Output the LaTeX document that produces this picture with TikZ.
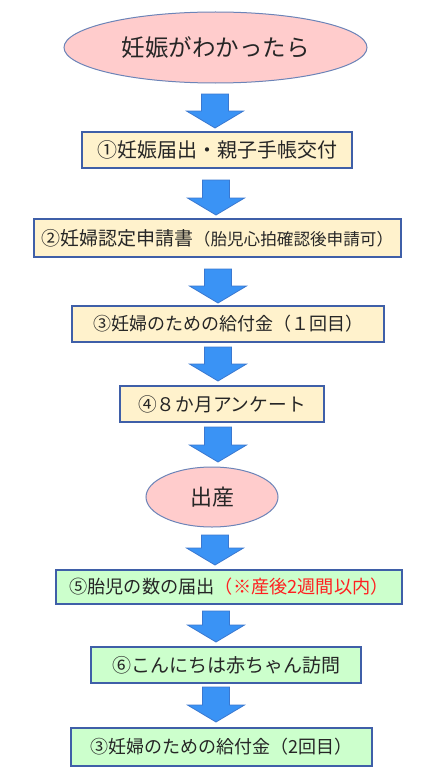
\documentclass[tikz,border=0pt]{standalone}
\usepackage{fontspec}
\setmainfont{Noto Sans CJK JP}
\usetikzlibrary{shapes.geometric}
\definecolor{pinkfill}{HTML}{FFCCCC}
\definecolor{ellline}{HTML}{6C84B8}
\definecolor{creamfill}{HTML}{FFF2CC}
\definecolor{greenfill}{HTML}{CCFFCC}
\definecolor{boxline}{HTML}{3F5FA8}
\definecolor{arrowfill}{HTML}{3A93F5}
\definecolor{arrowline}{HTML}{3A78D0}
\definecolor{txt}{HTML}{262626}
\definecolor{redtxt}{HTML}{FF2020}
\newcommand{\fs}[1]{\fontsize{#1}{#1}\selectfont}
\newcommand{\blockarrow}[3]{%
  \fill[arrowfill, draw=arrowline, line width=0.8pt, line join=miter]
    (#1-13.5,#2) -- (#1+13.5,#2) -- (#1+13.5,#3-17) -- (#1+28.5,#3-17)
    -- (#1,#3) -- (#1-28.5,#3-17) -- (#1-13.5,#3-17) -- cycle;}
\tikzset{
  oval/.style={ellipse, fill=pinkfill, draw=ellline, line width=1pt, text=txt, inner sep=0pt},
  ybox/.style={rectangle, fill=creamfill, draw=boxline, line width=1.1pt, text=txt, inner sep=0pt},
  gbox/.style={rectangle, fill=greenfill, draw=boxline, line width=1.1pt, text=txt, inner sep=0pt},
}
\begin{document}
\begin{tikzpicture}[x=1pt,y=-1pt]
\useasboundingbox[fill=white] (0,0) rectangle (433,784);

\node[oval, minimum width=303pt, minimum height=71pt] (e1) at (215.5,47.5) {\fs{23.5}妊娠がわかったら};
\node[ybox, minimum width=270pt, minimum height=36pt] (b1) at (217,150) {\fs{20}①妊娠届出・親子手帳交付};
\node[ybox, minimum width=367pt, minimum height=38pt] (b2) at (217.5,238) {\fs{19}②妊婦認定申請書\fs{16.6}（胎児心拍確認後申請可）\hspace{-5pt}};
\node[ybox, minimum width=312pt, minimum height=36pt] (b3) at (228,324) {\fs{18}③妊婦のための給付金（１回目）\hspace{12pt}};
\node[ybox, minimum width=204pt, minimum height=36pt] (b4) at (222,404) {\fs{18.7}④８か月アンケート};
\node[oval, minimum width=132pt, minimum height=60pt] (e2) at (212,497) {\fs{22}出産};
\node[gbox, minimum width=346pt, minimum height=34pt] (b5) at (229,587) {\fs{18.2}⑤胎児の数の届出\textcolor{redtxt}{（※産後2週間以内）}\hspace{10pt}};
\node[gbox, minimum width=270pt, minimum height=36pt] (b6) at (226,665) {\fs{19}⑥こんにちは赤ちゃん訪問};
\node[gbox, minimum width=301pt, minimum height=38pt] (b7) at (221.5,747) {\fs{18}③妊婦のための給付金（2回目）\hspace{11pt}};

\blockarrow{215}{94}{128}
\blockarrow{216}{180}{215}
\blockarrow{218}{269}{303}
\blockarrow{218}{347}{381}
\blockarrow{218}{427}{462}
\blockarrow{215}{535}{565}
\blockarrow{216}{611}{642}
\blockarrow{216}{687}{722}
\end{tikzpicture}
\end{document}
